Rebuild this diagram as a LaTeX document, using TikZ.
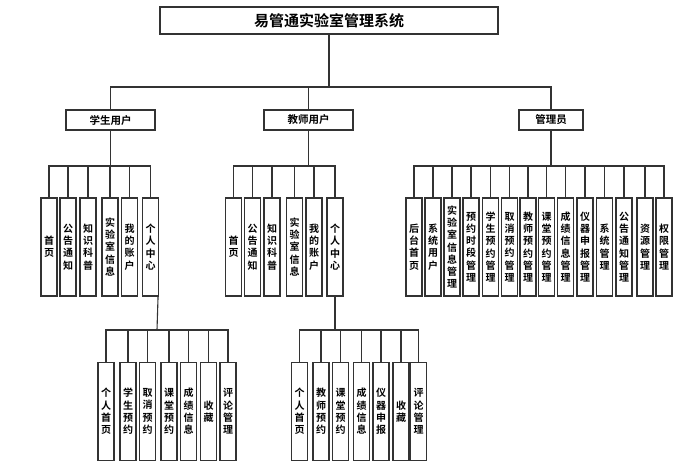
\documentclass[tikz,border=0pt]{standalone}
\usepackage{fontspec}
\newfontfamily\cjkfont{Noto Sans CJK SC}[BoldFont={Noto Sans CJK SC Bold}]
\begin{document}
\begin{tikzpicture}[x=1pt, y=-1pt,
  box/.style={draw=black!80, line width=1.1pt, fill=white, inner sep=0pt,
    font=\cjkfont\bfseries\fontsize{10.5}{12}\selectfont},
  leaf/.style={box, minimum width=16pt, minimum height=98pt, align=center,
    font=\cjkfont\bfseries\fontsize{10}{12.3}\selectfont},
  link/.style={draw=black!80, line width=1.1pt}]
  \useasboundingbox (0,0) rectangle (691,467);
  % System root
  \node[box, minimum width=338pt, minimum height=27pt,
    font=\cjkfont\bfseries\fontsize{15}{15}\selectfont] (root) at (329,20.5) {易管通实验室管理系统};
  % User roles
  \node[box, minimum width=89pt, minimum height=20pt] (stu) at (110.5,120) {学生用户};
  \node[box, minimum width=89pt, minimum height=20pt] (tea) at (308.5,120) {教师用户};
  \node[box, minimum width=64pt, minimum height=20pt] (adm) at (551,120) {管理员};
  \coordinate (rootbus) at (329,87);
  \draw[link] (root) -- (rootbus);
  \foreach \r in {stu,tea,adm}
    \draw[link] (rootbus) -| (\r);
  % Student pages
  \foreach \x/\t [count=\i] in {49/{首\\页}, 68/{公\\告\\通\\知}, 88/{知\\识\\科\\普},
      110/{实\\验\\室\\信\\息}, 129.5/{我\\的\\账\\户}, 150.5/{个\\人\\中\\心}}
    \node[leaf] (s\i) at (\x,247) {\t};
  \coordinate (stubus) at (110.5,166);
  \draw[link] (stu) -- (stubus);
  \foreach \i in {1,...,6}
    \draw[link] (stubus) -| (s\i);
  % Teacher pages
  \foreach \x/\t [count=\i] in {233.5/{首\\页}, 252.5/{公\\告\\通\\知}, 272/{知\\识\\科\\普},
      294.5/{实\\验\\室\\信\\息}, 314/{我\\的\\账\\户}, 335/{个\\人\\中\\心}}
    \node[leaf] (t\i) at (\x,247) {\t};
  \coordinate (teabus) at (308.5,166);
  \draw[link] (tea) -- (teabus);
  \foreach \i in {1,...,6}
    \draw[link] (teabus) -| (t\i);
  % Admin pages
  \foreach \x/\t [count=\i] in {414/{后\\台\\首\\页}, 433/{系\\统\\用\\户},
      452/{实\\验\\室\\信\\息\\管\\理}, 471/{预\\约\\时\\段\\管\\理},
      490.5/{学\\生\\预\\约\\管\\理}, 509.5/{取\\消\\预\\约\\管\\理},
      528/{教\\师\\预\\约\\管\\理}, 546.5/{课\\堂\\预\\约\\管\\理},
      565.5/{成\\绩\\信\\息\\管\\理}, 585/{仪\\器\\申\\报\\管\\理},
      604.5/{系\\统\\管\\理}, 624/{公\\告\\通\\知\\管\\理},
      645/{资\\源\\管\\理}, 664/{权\\限\\管\\理}}
    \node[leaf] (a\i) at (\x,247) {\t};
  \coordinate (admbus) at (551,166);
  \draw[link] (adm) -- (admbus);
  \foreach \i in {1,...,14}
    \draw[link] (admbus) -| (a\i);
  % Student personal centre
  \foreach \x/\t [count=\i] in {106/{个\\人\\首\\页}, 128/{学\\生\\预\\约}, 147.5/{取\\消\\预\\约},
      169/{课\\堂\\预\\约}, 188.5/{成\\绩\\信\\息}, 208.5/{收\\藏}, 228/{评\\论\\管\\理}}
    \node[leaf] (sp\i) at (\x,411.5) {\t};
  \coordinate (spbus) at (157,330);
  \draw[link] ([xshift=-1pt]s6.south east) -- (spbus);
  \foreach \i in {1,...,7}
    \draw[link] (spbus) -| (sp\i);
  % Teacher personal centre
  \foreach \x/\t [count=\i] in {299.5/{个\\人\\首\\页}, 321/{教\\师\\预\\约}, 340.5/{课\\堂\\预\\约},
      361.5/{成\\绩\\信\\息}, 381/{仪\\器\\申\\报}, 401/{收\\藏}, 418.5/{评\\论\\管\\理}}
    \node[leaf] (tp\i) at (\x,411.5) {\t};
  \coordinate (tpbus) at (335,330);
  \draw[link] (t6) -- (tpbus);
  \foreach \i in {1,...,7}
    \draw[link] (tpbus) -| (tp\i);
\end{tikzpicture}
\end{document}
